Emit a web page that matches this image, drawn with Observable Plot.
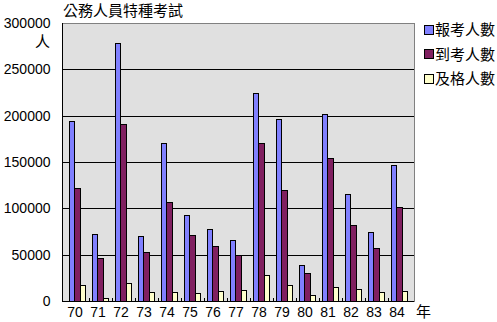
<!DOCTYPE html>
<html><head><meta charset="utf-8">
<script src="https://cdn.jsdelivr.net/npm/d3@7"></script>
<script src="https://cdn.jsdelivr.net/npm/@observablehq/plot@0.6"></script>
<style>
html,body{margin:0;padding:0;background:#fff;}
#wrap{position:relative;width:497px;height:322px;font-family:"Liberation Sans","Noto Sans CJK TC",sans-serif;color:#000;}
#wrap svg{position:absolute;left:0;top:0;}
.lab{position:absolute;white-space:nowrap;font-size:15px;line-height:18px;font-family:"Noto Sans CJK TC",sans-serif;}
.leg{position:absolute;left:424px;font-size:15px;line-height:18px;font-family:"Noto Sans CJK TC",sans-serif;white-space:nowrap;}
.leg i{display:inline-block;width:8px;height:8px;border:1px solid #000;vertical-align:middle;margin-right:1px;position:relative;top:-1px;}
</style></head>
<body><div id="wrap"></div>
<script>
const years = ["70","71","72","73","74","75","76","77","78","79","80","81","82","83","84"];
const applied = [194000,72000,278000,70000,170000,92000,77000,65000,224000,196000,38000,201000,115000,74000,146000];
const attended = [121000,46000,190000,52000,106000,71000,59000,49000,170000,119000,30000,154000,82000,57000,101000];
const passed = [17000,3000,19000,9000,9000,8000,10000,11000,27000,17000,6000,15000,12000,9000,10000];
const seriesNames = ["報考人數","到考人數","及格人數"];
const seriesColors = ["#8080ff","#802060","#ffffcc"];
const yTicks = [0,50000,100000,150000,200000,250000,300000];
const title = "公務人員特種考試";

const W = 497, H = 322;
const mL = 62, mR = 83, mT = 23, mB = 21;
const step = (W - mL - mR) / years.length;
const off = step * 0.15;
const bw = step * 0.7 / 3;

const seriesValues = [applied, attended, passed];
const barMarks = seriesValues.map((vals, i) =>
  Plot.barY(years.map((y, j) => ({year: y, v: vals[j]})), {
    x: "year", y: "v", fill: seriesColors[i], stroke: "#000", strokeWidth: 1,
    insetLeft: off + i * bw, insetRight: step - off - (i + 1) * bw
  })
);

const chart = Plot.plot({
  width: W, height: H,
  marginLeft: mL, marginRight: mR, marginTop: mT, marginBottom: mB,
  style: {fontSize: "14px", fontFamily: "'Liberation Sans', sans-serif", background: "transparent", shapeRendering: "crispEdges"},
  x: {domain: years, padding: 0},
  y: {domain: [0, 300000]},
  marks: [
    Plot.frame({fill: "#e0e0e0", stroke: "#808080"}),
    Plot.ruleY(yTicks.filter(d => d > 0 && d < 300000), {stroke: "#000"}),
    ...barMarks,
    Plot.ruleY([0], {stroke: "#000"}),
    Plot.ruleX(years.slice(0, -1), {x: d => d, dx: step / 2, y1: 0, y2: 0, insetTop: -3, stroke: "#000"}),
    Plot.axisY({ticks: yTicks, tickSize: 0, tickPadding: 12, tickFormat: d => String(d), label: null, fill: "#000"}),
    Plot.axisX({tickSize: 0, tickPadding: 6, label: null, dx: -3, fill: "#000"}),
    Plot.frame({anchor: "left", stroke: "#000"})
  ]
});
const wrap = document.getElementById("wrap");
wrap.appendChild(chart);

function addLabel(text, left, top, align) {
  const d = document.createElement("div");
  d.className = "lab";
  d.textContent = text;
  d.style.top = top + "px";
  if (align === "right") { d.style.right = (W - left) + "px"; } else { d.style.left = left + "px"; }
  wrap.appendChild(d);
}
addLabel(title, 63, 1);
addLabel("人", 50, 32, "right");
addLabel("年", 416, 302);

seriesNames.forEach((name, i) => {
  const d = document.createElement("div");
  d.className = "leg";
  d.style.top = (20 + i * 24.5) + "px";
  const sw = document.createElement("i");
  sw.style.background = seriesColors[i];
  d.appendChild(sw);
  d.appendChild(document.createTextNode(name));
  wrap.appendChild(d);
});
</script></body></html>
